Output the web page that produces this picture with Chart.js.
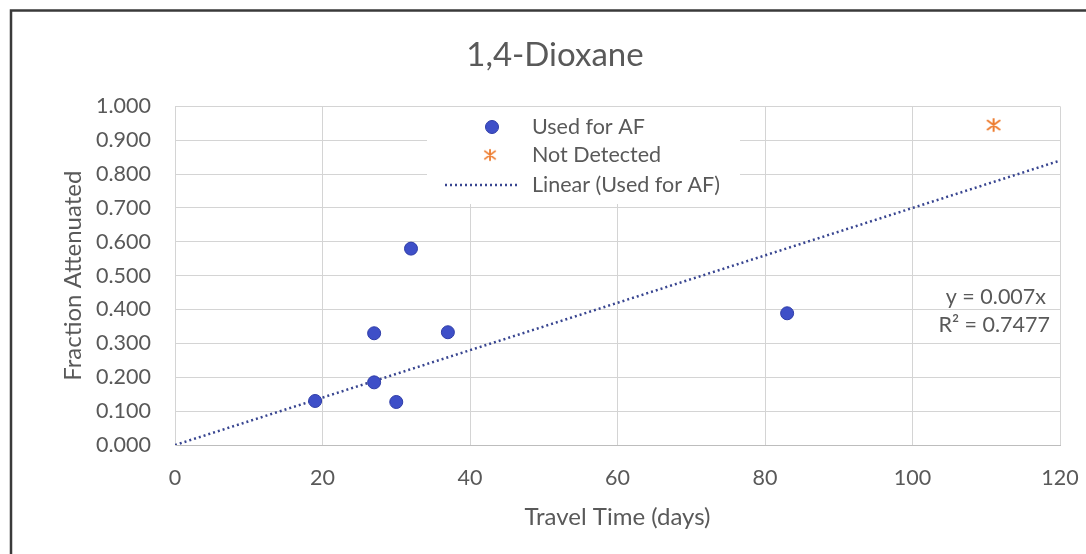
<!DOCTYPE html>
<html><head><meta charset="utf-8">
<script src="https://cdn.jsdelivr.net/npm/chart.js@4/dist/chart.umd.min.js"></script>
<style>html,body{margin:0;padding:0;background:#fff;overflow:hidden;}#wrap{width:1086px;height:554px;position:relative;}canvas{display:block;}</style>
</head><body><div id="wrap"><canvas id="c"></canvas></div>
<script>
const titleText = '1,4-Dioxane';
const xTitle = 'Travel Time (days)';
const yTitle = 'Fraction Attenuated';
const seriesNames = ['Used for AF', 'Not Detected', 'Linear (Used for AF)'];
const usedX = [19, 27, 27, 30, 32, 37, 83];
const usedY = [0.130, 0.185, 0.330, 0.127, 0.580, 0.333, 0.389];
const ndX = [111];
const ndY = [0.945];
const trendX = [0, 120];
const trendY = [0, 0.84];
const eqLines = ['y = 0.007x', 'R\u00B2 = 0.7477'];
const xTicks = [0, 20, 40, 60, 80, 100, 120];
const yTicks = [0, 0.1, 0.2, 0.3, 0.4, 0.5, 0.6, 0.7, 0.8, 0.9, 1.0];

const FONT = 'Lato, "Open Sans", sans-serif';
const TXT = '#595959';
const BLUE = '#3E4FC8';
const BLUE_EDGE = '#2F3DA8';
const ORANGE = '#ED7D31';
const TREND = '#384590';
const GRID = '#d4d4d4';

Chart.defaults.font.family = FONT;
Chart.defaults.color = TXT;

const pts = (xs, ys) => xs.map((x, i) => ({x: x, y: ys[i]}));

// Excel-style "star" marker: an x with a vertical stroke
function makeStar(size) {
  const c = document.createElement('canvas');
  c.width = size; c.height = size;
  const g = c.getContext('2d');
  const m = size / 2, r = size / 2 - 2;
  g.strokeStyle = ORANGE;
  g.lineWidth = 2;
  g.lineCap = 'round';
  g.beginPath();
  g.moveTo(m - r, m - r * 0.75); g.lineTo(m + r, m + r * 0.75);
  g.moveTo(m + r, m - r * 0.75); g.lineTo(m - r, m + r * 0.75);
  g.moveTo(m, m - r); g.lineTo(m, m + r);
  g.stroke();
  return c;
}
const starImg = makeStar(16);

const deco = {
  id: 'deco',
  beforeDraw(chart) {
    const ctx = chart.ctx;
    ctx.save();
    ctx.fillStyle = '#fff';
    ctx.fillRect(0, 0, chart.width, chart.height);
    ctx.restore();
  },
  afterDraw(chart) {
    const ctx = chart.ctx;
    ctx.save();
    // legend box inside plot area
    ctx.fillStyle = '#fff';
    ctx.fillRect(427, 107, 313, 97);
    ctx.fillStyle = BLUE;
    ctx.strokeStyle = BLUE_EDGE;
    ctx.lineWidth = 1;
    Chart.helpers.drawPoint(ctx, {pointStyle: 'circle', radius: 6.5, borderWidth: 1}, 492, 127);
    ctx.drawImage(starImg, 490 - 7, 155 - 7, 14, 14);
    ctx.strokeStyle = TREND;
    ctx.lineWidth = 2.5;
    ctx.setLineDash([2, 3]);
    ctx.beginPath(); ctx.moveTo(445, 185); ctx.lineTo(518, 185); ctx.stroke();
    ctx.setLineDash([]);
    ctx.fillStyle = TXT;
    ctx.font = '21.5px ' + FONT;
    ctx.textAlign = 'left';
    ctx.textBaseline = 'middle';
    ctx.fillText(seriesNames[0], 532, 127);
    ctx.fillText(seriesNames[1], 532, 155);
    ctx.fillText(seriesNames[2], 532, 185);
    // equation
    ctx.textAlign = 'right';
    ctx.font = '21.5px ' + FONT;
    ctx.fillText(eqLines[0], 1046, 297);
    ctx.fillText(eqLines[1], 1050, 325);
    // outer border (top and left)
    ctx.strokeStyle = '#3a3a3a';
    ctx.lineWidth = 2.5;
    ctx.beginPath();
    ctx.moveTo(11, chart.height);
    ctx.lineTo(11, 10.5);
    ctx.lineTo(chart.width, 10.5);
    ctx.stroke();
    ctx.restore();
  }
};

new Chart(document.getElementById('c'), {
  type: 'scatter',
  data: {
    datasets: [
      {label: seriesNames[0], data: pts(usedX, usedY), backgroundColor: BLUE, borderColor: BLUE_EDGE,
       borderWidth: 1, pointRadius: 6.5, pointHoverRadius: 6.5},
      {label: seriesNames[1], data: pts(ndX, ndY), pointStyle: starImg, borderColor: ORANGE,
       backgroundColor: ORANGE, borderWidth: 2, pointRadius: 8},
      {label: seriesNames[2], data: pts(trendX, trendY), showLine: true, borderColor: TREND,
       borderWidth: 2.5, borderDash: [2, 3], pointRadius: 0, fill: false}
    ]
  },
  options: {
    responsive: true,
    maintainAspectRatio: false,
    animation: false,
    devicePixelRatio: 1,
    layout: {padding: {top: 12, left: 50, right: 26, bottom: 0}},
    plugins: {
      legend: {display: false},
      tooltip: {enabled: false},
      title: {display: true, text: titleText, color: TXT,
              font: {size: 33, weight: 'normal', family: FONT}, padding: {top: 23.5, bottom: 31.3}}
    },
    scales: {
      x: {
        type: 'linear', min: 0, max: 120,
        afterBuildTicks: s => { s.ticks = xTicks.map(v => ({value: v})); },
        afterFit: s => { s.height = 109; s.paddingRight = 0; s.paddingLeft = 0; },
        grid: {color: GRID, lineWidth: 1, drawTicks: false},
        border: {color: '#bdbdbd'},
        ticks: {padding: 20, font: {size: 21.5}, color: TXT},
        title: {display: true, text: xTitle, color: TXT, font: {size: 24}, padding: {top: 0, bottom: 22.6}}
      },
      y: {
        type: 'linear', min: 0, max: 1,
        afterBuildTicks: s => { s.ticks = yTicks.map(v => ({value: v})); },
        afterFit: s => { s.width = 125; },
        grid: {color: GRID, lineWidth: 1, drawTicks: false},
        border: {color: GRID},
        ticks: {padding: 24, font: {size: 21.5}, color: TXT, callback: v => Number(v).toFixed(3)},
        title: {display: true, text: yTitle, color: TXT, font: {size: 24}, padding: {top: 8.6, bottom: 0}}
      }
    }
  },
  plugins: [deco]
});
</script>
</body></html>
